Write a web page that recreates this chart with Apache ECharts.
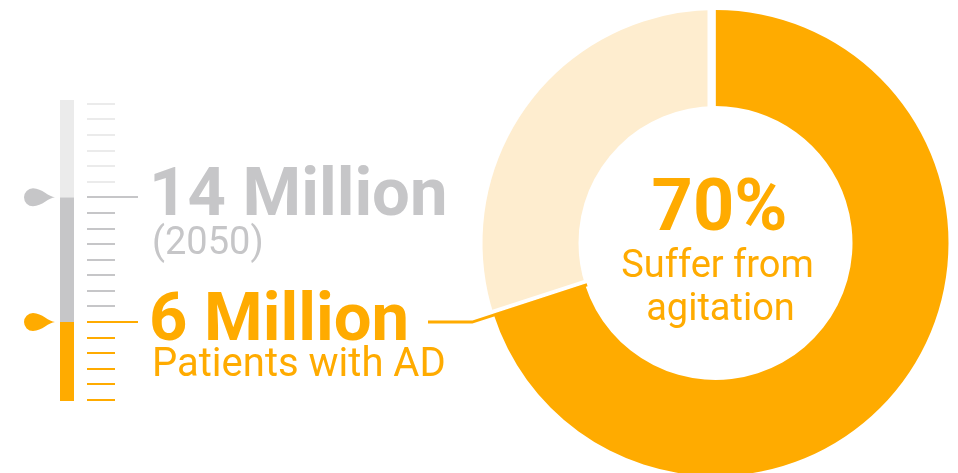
<!DOCTYPE html>
<html>
<head>
<meta charset="utf-8">
<script src="https://cdn.jsdelivr.net/npm/echarts@6/dist/echarts.min.js"></script>
<style>
  html, body { margin: 0; padding: 0; background: #fff; }
  #chart { width: 958px; height: 473px; }
</style>
</head>
<body>
<div id="chart"></div>
<script>
// Left scale: patients with Alzheimer's disease, in millions
const scaleTicks = [1, 2, 3, 4, 5, 6, 7, 8, 9, 10, 11, 12, 13, 14, 15, 16, 17, 18, 19, 20];
const scaleBottom = 1;
const scaleTop = 20;
const levelValues = [14, 6];
const levelTitles = ['14 Million', '6 Million'];
const levelNotes = ['(2050)', 'Patients with AD'];

// Right ring: share of patients with agitation (%)
const shareNames = ['Suffer from agitation', 'No agitation'];
const shareValues = [70, 30];
const centerLines = ['Suffer from', 'agitation'];

const ORANGE = '#ffab00';
const CREAM = '#feedcf';
const GREY = '#c6c6c8';
const LIGHT = '#ebebeb';
const FONT = 'Roboto, "DejaVu Sans", sans-serif';

const current = Math.min(...levelValues);   // 6
const future = Math.max(...levelValues);    // 14

function levelColor(v) {
  if (v <= current) return ORANGE;
  if (v <= future) return GREY;
  return LIGHT;
}

// bands of the vertical bar: [x, from, to]
const bandEdges = [scaleBottom, current, future, scaleTop];
const bands = [];
for (let i = 0; i < bandEdges.length - 1; i++) bands.push([0, bandEdges[i], bandEdges[i + 1]]);

// ring geometry
const ringCenter = [715.5, 243];
const ringInner = 137;
const ringOuter = 233;

const chart = echarts.init(document.getElementById('chart'), null, { renderer: 'canvas' });

chart.setOption({
  animation: false,
  backgroundColor: '#fff',
  grid: { left: 0, right: 0, top: 103.8, bottom: 73, containLabel: false },
  xAxis: { type: 'value', min: 0, max: 1, show: false },
  yAxis: { type: 'value', min: scaleBottom, max: scaleTop, show: false },
  series: [
    {
      // the vertical bar
      type: 'custom',
      silent: true,
      encode: { x: 0, y: [1, 2] },
      data: bands,
      renderItem(params, api) {
        const lo = api.value(1), hi = api.value(2);
        const yLo = api.coord([0, lo])[1] + (lo === scaleBottom ? 1 : 0);
        const yHi = api.coord([0, hi])[1] - (hi === scaleTop ? 3.8 : 0);
        return {
          type: 'rect',
          shape: { x: 60, y: yHi, width: 14, height: yLo - yHi },
          style: { fill: levelColor(hi) }
        };
      }
    },
    {
      // tick marks, one per million
      type: 'custom',
      silent: true,
      encode: { x: 0, y: 1 },
      data: scaleTicks.map(v => [0, v]),
      renderItem(params, api) {
        const v = api.value(1);
        const y = Math.round(api.coord([0, v])[1]);
        const long = levelValues.indexOf(v) >= 0;
        return {
          type: 'line',
          shape: { x1: 87, y1: y, x2: long ? 138 : 115, y2: y },
          style: { stroke: levelColor(v), lineWidth: 2 }
        };
      }
    },
    {
      // level markers with their labels
      type: 'custom',
      silent: true,
      encode: { x: 0, y: 1 },
      data: levelValues.map((v, i) => [0, v, i]),
      renderItem(params, api) {
        const v = api.value(1);
        const i = api.value(2);
        const y = api.coord([0, v])[1];
        const color = levelColor(v);
        const isFuture = v === future;
        return {
          type: 'group',
          children: [
            {
              type: 'path',
              shape: {
                pathData: 'M31,9 C25,9 18,0 9,0 A9,9 0 0,0 9,18 C18,18 25,9 31,9 Z',
                x: 24, y: y - 9, width: 31, height: 18, layout: 'cover'
              },
              style: { fill: color }
            },
            {
              type: 'text',
              style: {
                x: 149, y: y + 1,
                text: levelTitles[i],
                font: 'bold 67px ' + FONT,
                fill: color,
                verticalAlign: 'middle',
                align: 'left'
              }
            },
            {
              type: 'text',
              style: {
                x: 152, y: y + (isFuture ? 47 : 44),
                text: levelNotes[i],
                font: (isFuture ? '38px ' : '40px ') + FONT,
                fill: color,
                verticalAlign: 'middle',
                align: 'left'
              }
            }
          ]
        };
      }
    },
    {
      type: 'pie',
      silent: true,
      center: ringCenter,
      radius: [ringInner, ringOuter],
      startAngle: 90,
      clockwise: true,
      label: { show: false },
      labelLine: { show: false },
      itemStyle: { borderWidth: 0 },
      emphasis: { disabled: true },
      data: shareValues.map((v, i) => ({
        name: shareNames[i],
        value: v,
        itemStyle: { color: i === 0 ? ORANGE : CREAM }
      }))
    }
  ]
});

// overlay: gaps in the ring, leader line and centre text
(function () {
  const total = shareValues.reduce((a, b) => a + b, 0);
  const share = shareValues[0] / total;
  const theta = share * 2 * Math.PI;            // clockwise from 12 o'clock
  const [cx, cy] = ringCenter;
  const u = [Math.sin(theta), -Math.cos(theta)]; // radial direction of the boundary
  const n = [Math.cos(theta), Math.sin(theta)];  // towards the cream segment
  const y6 = chart.convertToPixel({ gridIndex: 0 }, [0, current])[1];

  function strip(dir, norm, off0, off1) {
    const r0 = ringInner - 3, r1 = ringOuter + 3;
    const p = (r, o) => [cx + dir[0] * r + norm[0] * o, cy + dir[1] * r + norm[1] * o];
    return {
      type: 'polygon',
      z: 100,
      silent: true,
      shape: { points: [p(r0, off0), p(r1, off0), p(r1, off1), p(r0, off1)] },
      style: { fill: '#fff' }
    };
  }

  const t = (y6 - cy) / u[1];
  const bend = [cx + u[0] * t, y6];
  const tip = [cx + u[0] * (ringInner - 2), cy + u[1] * (ringInner - 2)];

  const pct = Math.round(share * 100) + '%';

  chart.setOption({
    graphic: [
      strip([0, -1], [-1, 0], 0, 8),
      strip(u, n, 1.5, 5.5),
      {
        type: 'polyline',
        z: 101,
        silent: true,
        shape: { points: [[428, y6], bend, tip] },
        style: { stroke: ORANGE, lineWidth: 3, fill: null }
      },
      {
        type: 'text', z: 102, silent: true,
        style: {
          x: cx + 4, y: 212, text: pct,
          font: 'bold 72px ' + FONT, fill: ORANGE,
          align: 'center', verticalAlign: 'middle'
        }
      },
      {
        type: 'text', z: 102, silent: true,
        style: {
          x: cx + 2, y: 267, text: centerLines[0],
          font: '38px ' + FONT, fill: ORANGE,
          align: 'center', verticalAlign: 'middle'
        }
      },
      {
        type: 'text', z: 102, silent: true,
        style: {
          x: cx + 5, y: 310, text: centerLines[1],
          font: '38px ' + FONT, fill: ORANGE,
          align: 'center', verticalAlign: 'middle'
        }
      }
    ]
  });
})();
</script>
</body>
</html>
